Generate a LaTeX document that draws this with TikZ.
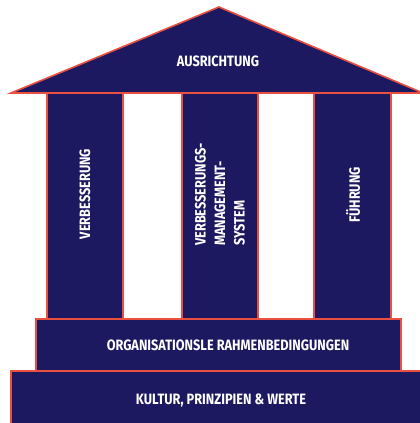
\documentclass[tikz,border=0pt]{standalone}
\usepackage{fontspec}
\newfontfamily\templefont[FakeStretch=0.85]{Fira Sans}
\definecolor{navy}{RGB}{29,25,96}
\definecolor{coral}{RGB}{233,80,63}
\begin{document}
\begin{tikzpicture}[x=1pt,y=-1pt,
  block/.style={fill=navy,draw=coral,line width=1.6pt,line join=miter},
  label/.style={text=white,font=\templefont\bfseries\fontsize{15}{19.5}\selectfont,inner sep=0pt},
  pillarlabel/.style={label,rotate=90,align=left}]
\useasboundingbox (0,0) rectangle (420,423);
% foundation and platform
\draw[block] (11,371) rectangle (426,430);
\draw[block] (36,319) rectangle (401,371);
% the three pillars
\draw[block] (47,93) rectangle (123,319);
\draw[block] (182,93) rectangle (258,319);
\draw[block] (314,93) rectangle (391,319);
% roof
\draw[block] (11,93) -- (219,7) -- (423,93) -- cycle;
% labels
\node[label] (roof) at (218,61) {AUSRICHTUNG};
\node[pillarlabel] (p1) at (85,194) {VERBESSERUNG};
\node[pillarlabel] (p2) at (220,194.5) {VERBESSERUNGS-\\MANAGEMENT-\\SYSTEM};
\node[pillarlabel] (p3) at (353,195) {FÜHRUNG};
\node[label] (frame) at (228,345) {ORGANISATIONSLE RAHMENBEDINGUNGEN};
\node[label] (base) at (221,400) {KULTUR, PRINZIPIEN \& WERTE};
\end{tikzpicture}
\end{document}
